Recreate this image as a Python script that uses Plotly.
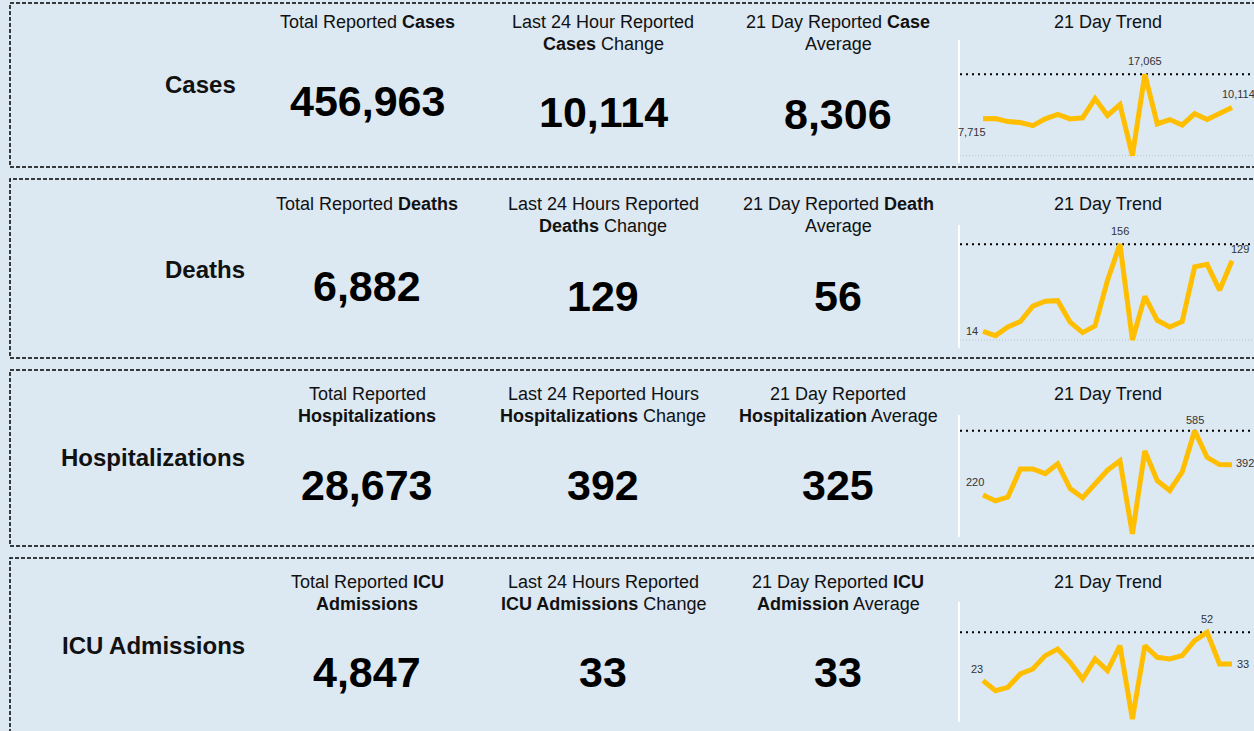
import plotly.graph_objects as go

W, H = 1254, 731

# ---------------- data ----------------
metrics = ["Cases", "Deaths", "Hospitalizations", "ICU Admissions"]
total_headers = [
    "Total Reported <b>Cases</b>",
    "Total Reported <b>Deaths</b>",
    "Total Reported<br><b>Hospitalizations</b>",
    "Total Reported <b>ICU</b><br><b>Admissions</b>",
]
change_headers = [
    "Last 24 Hour Reported<br><b>Cases</b> Change",
    "Last 24 Hours Reported<br><b>Deaths</b> Change",
    "Last 24 Reported Hours<br><b>Hospitalizations</b> Change",
    "Last 24 Hours Reported<br><b>ICU Admissions</b> Change",
]
avg_headers = [
    "21 Day Reported <b>Case</b><br>Average",
    "21 Day Reported <b>Death</b><br>Average",
    "21 Day Reported<br><b>Hospitalization</b> Average",
    "21 Day Reported <b>ICU</b><br><b>Admission</b> Average",
]
trend_header = "21 Day Trend"

totals = [456963, 6882, 28673, 4847]
changes = [10114, 129, 392, 33]
averages = [8306, 56, 325, 33]

days = list(range(1, 22))
cases_trend = [7715, 7790, 7150, 6940, 6300, 7715, 8640, 7715, 7930, 11960, 8420,
               10690, 0, 17065, 6650, 7570, 6440, 8780, 7570, 8780, 10114]
deaths_trend = [14, 7, 21, 30, 55, 63, 64, 29, 12, 23, 97,
                156, 0, 71, 32, 21, 30, 119, 123, 81, 129]
hosp_trend = [220, 187, 209, 368, 368, 342, 397, 257, 205, 278, 361,
              415, 0, 470, 302, 246, 351, 585, 434, 393, 392]
icu_trend = [23, 17, 19, 27, 30, 38, 42, 34, 24, 36, 29,
             44, 0, 44, 37, 36, 38, 47, 52, 33, 33]
trends = [cases_trend, deaths_trend, hosp_trend, icu_trend]

# ---------------- layout / style ----------------
BG = "#dce8f2"
LINE_COLOR = "#FFBF00"
FONT = "Arial, Liberation Sans, sans-serif"
TXT = "#111111"

panel_px = [(3, 167), (179, 358), (370, 546), (558, 745)]
label_right_px = [238, 247, 247, 247]
label_y_px = [85, 269, 457, 645]
col_x_px = [367, 603, 838, 1108]
header_y_px = [22, 204, 394, 582]
header_line_gap = 22
num_y_px = [(101, 112, 114), (286, 296, 296), (485, 485, 485), (672, 672, 672)]
spark_px = [(40, 163), (225, 348), (415, 537), (602, 722)]
spark_pad = [(0.421, 0.09), (0.20, 0.084), (0.152, 0.03), (0.35, 0.035)]
show_min_line = [True, True, False, False]
# (first, max, last) label shifts (xshift, yshift)
lab_shift = [
    [(-11, -13), (0, 13), (6, 13)],
    [(-11, 0), (0, 13), (8, 12)],
    [(-8, 13), (0, 11), (13, 2)],
    [(-6, 12), (0, 13), (11, 0)],
]


def pyp(p):
    return 1 - p / H


def pxp(p):
    return p / W


fig = go.Figure()
shapes = []
annotations = []

x_left_px, x0_px, x20_px = 960, 983, 1232
step = (x20_px - x0_px) / 20
xr = [days[0] - (x0_px - x_left_px) / step, days[-1] + (W - x20_px) / step]

for r in range(4):
    top, bot = panel_px[r]
    shapes.append(dict(type="rect", xref="paper", yref="paper",
                       x0=pxp(10), x1=pxp(W + 20), y0=pyp(bot), y1=pyp(top),
                       line=dict(color="#000000", width=1.5, dash="4px,2px"),
                       fillcolor="rgba(0,0,0,0)", layer="below"))

    annotations.append(dict(text=f"<b>{metrics[r]}</b>", xref="paper", yref="paper",
                            x=pxp(label_right_px[r]), y=pyp(label_y_px[r]),
                            xanchor="right", yanchor="middle", showarrow=False,
                            font=dict(size=24, color=TXT, family=FONT)))

    hdrs = [total_headers[r], change_headers[r], avg_headers[r]]
    vals = [totals[r], changes[r], averages[r]]
    for c in range(3):
        for li, line in enumerate(hdrs[c].split("<br>")):
            annotations.append(dict(text=line, xref="paper", yref="paper",
                                    x=pxp(col_x_px[c]),
                                    y=pyp(header_y_px[r] + li * header_line_gap),
                                    xanchor="center", yanchor="middle", showarrow=False,
                                    font=dict(size=18, color=TXT, family=FONT)))
        annotations.append(dict(text=f"<b>{vals[c]:,}</b>", xref="paper", yref="paper",
                                x=pxp(col_x_px[c]), y=pyp(num_y_px[r][c]),
                                xanchor="center", yanchor="middle", showarrow=False,
                                font=dict(size=43, color="#000000", family=FONT)))
    annotations.append(dict(text=trend_header, xref="paper", yref="paper",
                            x=pxp(col_x_px[3]), y=pyp(header_y_px[r]),
                            xanchor="center", yanchor="middle", showarrow=False,
                            font=dict(size=18, color=TXT, family=FONT)))

    # sparkline
    n = r + 1
    sfx = "" if n == 1 else str(n)
    tr = trends[r]
    vmin, vmax = min(tr), max(tr)
    span = vmax - vmin
    pt, pb = spark_pad[r]
    st, sb = spark_px[r]
    fig.add_trace(go.Scatter(x=days, y=tr, mode="lines",
                             line=dict(color=LINE_COLOR, width=5),
                             xaxis=f"x{sfx}", yaxis=f"y{sfx}", hoverinfo="skip",
                             showlegend=False))
    fig.layout[f"xaxis{sfx}"] = dict(domain=[pxp(x_left_px), 1], range=xr,
                                     anchor=f"y{sfx}", showgrid=False, zeroline=False,
                                     showticklabels=False, showline=False, fixedrange=True)
    fig.layout[f"yaxis{sfx}"] = dict(domain=[pyp(sb), pyp(st)],
                                     range=[vmin - pb * span, vmax + pt * span],
                                     anchor=f"x{sfx}", showgrid=False, zeroline=False,
                                     showticklabels=False, showline=True,
                                     linecolor="#ffffff", linewidth=2, fixedrange=True)
    shapes.append(dict(type="line", xref=f"x{sfx} domain", yref=f"y{sfx}",
                       x0=0, x1=1, y0=vmax, y1=vmax, layer="below",
                       line=dict(color="#000000", width=2, dash="2px,4px")))
    if show_min_line[r]:
        shapes.append(dict(type="line", xref=f"x{sfx} domain", yref=f"y{sfx}",
                           x0=0, x1=1, y0=vmin, y1=vmin, layer="below",
                           line=dict(color="#b8c4d0", width=1, dash="1px,2px")))
    imax = tr.index(vmax)
    for (idx, (xs, ys)) in zip([0, imax, len(tr) - 1], lab_shift[r]):
        annotations.append(dict(text=f"{tr[idx]:,}", xref=f"x{sfx}", yref=f"y{sfx}",
                                x=days[idx], y=tr[idx], xshift=xs, yshift=ys,
                                showarrow=False, xanchor="center", yanchor="middle",
                                font=dict(size=11, color="#333333", family=FONT)))

fig.update_layout(width=W, height=H, margin=dict(l=0, r=0, t=0, b=0),
                  paper_bgcolor=BG, plot_bgcolor="rgba(0,0,0,0)",
                  shapes=shapes, annotations=annotations, showlegend=False)

fig.write_html("out.html", config={"displayModeBar": False},
               post_script="document.body.style.margin='0';document.body.style.overflow='hidden';")
